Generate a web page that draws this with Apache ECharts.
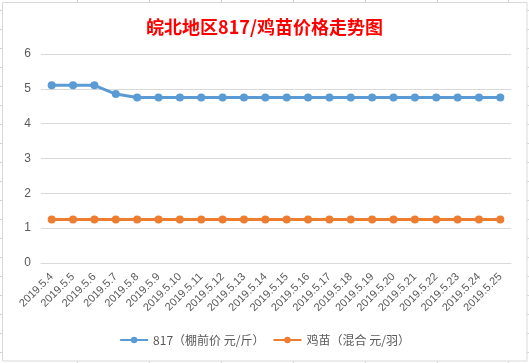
<!DOCTYPE html>
<html><head><meta charset="utf-8">
<script src="https://cdn.jsdelivr.net/npm/echarts@6/dist/echarts.min.js"></script>
<style>html,body{margin:0;padding:0;background:#fff}#c{width:529px;height:363px}</style>
</head><body><div id="c"></div>
<script>
const categories = ['2019.5.4','2019.5.5','2019.5.6','2019.5.7','2019.5.8','2019.5.9','2019.5.10','2019.5.11','2019.5.12','2019.5.13','2019.5.14','2019.5.15','2019.5.16','2019.5.17','2019.5.18','2019.5.19','2019.5.20','2019.5.21','2019.5.22','2019.5.23','2019.5.24','2019.5.25'];
const price817 = [5.1,5.1,5.1,4.85,4.75,4.75,4.75,4.75,4.75,4.75,4.75,4.75,4.75,4.75,4.75,4.75,4.75,4.75,4.75,4.75,4.75,4.75];
const chickPrice = [1.25,1.25,1.25,1.25,1.25,1.25,1.25,1.25,1.25,1.25,1.25,1.25,1.25,1.25,1.25,1.25,1.25,1.25,1.25,1.25,1.25,1.25];
const seriesNames = ['817（棚前价 元/斤）','鸡苗（混合 元/羽）'];
const titleText = '皖北地区817/鸡苗价格走势图';

// spreadsheet background decoration
const bg = [];
const sheetLine = {stroke:'#d4d4d4', lineWidth:1};
for (let y = 10.5; y < 363; y += 19) {
  bg.push({type:'line', silent:true, z:-10, shape:{x1:0,y1:y,x2:3,y2:y}, style:sheetLine});
  bg.push({type:'line', silent:true, z:-10, shape:{x1:527,y1:y,x2:529,y2:y}, style:sheetLine});
}
[77.5,149.5,221.5,293.5,365.5,437.5,508.5].forEach(x=>{
  bg.push({type:'line', silent:true, z:-10, shape:{x1:x,y1:0,x2:x,y2:3}, style:sheetLine});
  bg.push({type:'line', silent:true, z:-10, shape:{x1:x,y1:361,x2:x,y2:363}, style:sheetLine});
});
bg.push({type:'rect', silent:true, z:-9, shape:{x:2.5,y:2.5,width:524.5,height:358.5}, style:{fill:'#fff', stroke:'#d9d9d9', lineWidth:1}});

const chart = echarts.init(document.getElementById('c'), null, {renderer:'canvas'});
chart.setOption({
  animation:false,
  backgroundColor:'#fff',
  graphic: bg,
  title:{text:titleText, left:'center', top:13,
    textStyle:{color:'#ff0000', fontSize:18, fontWeight:'bold', fontFamily:'"Noto Sans CJK SC", sans-serif'}},
  grid:{left:41, right:18, top:54, bottom:100, containLabel:false},
  legend:{bottom:12, left:'center', itemWidth:28, itemHeight:8, itemGap:8,
    textStyle:{color:'#595959', fontSize:12, fontFamily:'"Noto Sans CJK SC", sans-serif'},
    data:seriesNames},
  xAxis:{type:'category', data:categories, boundaryGap:true,
    axisLine:{lineStyle:{color:'#d9d9d9'}}, axisTick:{show:false},
    axisLabel:{rotate:45, color:'#595959', fontSize:11, margin:12, interval:0, fontFamily:'"Liberation Sans", sans-serif'}},
  yAxis:{type:'value', min:0, max:6, interval:1,
    axisLine:{show:false}, axisTick:{show:false},
    axisLabel:{color:'#595959', fontSize:12, margin:10, fontFamily:'"Liberation Sans", sans-serif'},
    splitLine:{lineStyle:{color:'#d9d9d9'}}},
  series:[
    {name:seriesNames[0], type:'line', data:price817, symbol:'circle', symbolSize:8,
      lineStyle:{width:3, color:'#5b9bd5'}, itemStyle:{color:'#5b9bd5'}},
    {name:seriesNames[1], type:'line', data:chickPrice, symbol:'circle', symbolSize:8,
      lineStyle:{width:3, color:'#ed7d31'}, itemStyle:{color:'#ed7d31'}}
  ]
});
</script></body></html>
